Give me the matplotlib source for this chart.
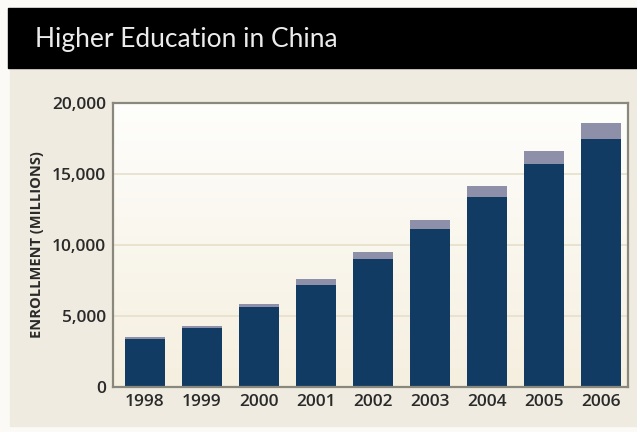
import numpy as np
import matplotlib.pyplot as plt
from matplotlib.patches import Rectangle
from matplotlib.colors import LinearSegmentedColormap

years = ['1998', '1999', '2000', '2001', '2002', '2003', '2004', '2005', '2006']
# enrollment split into the main (dark) part and the extra top segment
main_part = [3400, 4150, 5650, 7180, 9000, 11100, 13360, 15700, 17440]
top_part = [140, 150, 170, 400, 530, 660, 820, 940, 1130]
yticks = [0, 5000, 10000, 15000, 20000]

W, H = 637, 432
fig = plt.figure(figsize=(W / 100, H / 100), dpi=100)
fig.patch.set_facecolor('#fbfaf7')

# beige panel and black title bar
fig.add_artist(Rectangle((10 / W, 1 - 426 / H), 627 / W, 358 / H,
                         transform=fig.transFigure, color='#efebe0', zorder=0))
fig.add_artist(Rectangle((8 / W, 1 - 68 / H), 629 / W, 60 / H,
                         transform=fig.transFigure, color='#000000', zorder=1))
fig.text(35 / W, 1 - 39 / H, 'Higher Education in China', color='#ececec',
         fontsize=19, fontfamily='Lato', va='center', ha='left')

ax = fig.add_axes([113 / W, 1 - 387 / H, 515 / W, 284 / H])
x = np.arange(len(years))

# soft vertical gradient behind the bars: white at the top, cream at the bottom
grad = np.linspace(0, 1, 256).reshape(-1, 1)
ax.imshow(grad, extent=(-0.56, 8.47, 0, 20000), aspect='auto', origin='lower',
          cmap=LinearSegmentedColormap.from_list('bg', ['#f5efdf', '#fefefc']),
          zorder=0)

for yv in yticks[1:-1]:
    ax.axhline(yv, color='#e6dfca', lw=1.2, zorder=1)

ax.bar(x, main_part, width=0.70, color='#113b63', zorder=2)
ax.bar(x, top_part, bottom=main_part, width=0.70, color='#8e90aa', zorder=2)

ax.set_xlim(-0.56, 8.47)
ax.set_ylim(0, 20000)
ax.set_xticks(x)
ax.set_xticklabels(years)
ax.set_yticks(yticks)
ax.set_yticklabels([f'{v:,}' for v in yticks])
ax.tick_params(length=0, labelsize=12.5, colors='#2a2a2a', pad=5)
for lbl in ax.get_xticklabels() + ax.get_yticklabels():
    lbl.set_fontfamily('Open Sans')
    lbl.set_fontweight('semibold')

for side in ax.spines.values():
    side.set_color('#8a877c')
    side.set_linewidth(1.6)

ax.set_ylabel('ENROLLMENT (MILLIONS)', fontsize=10.5, fontweight='bold',
              fontfamily='Open Sans', color='#2a2a2a', labelpad=6)

fig.savefig('out.png', dpi=100)
